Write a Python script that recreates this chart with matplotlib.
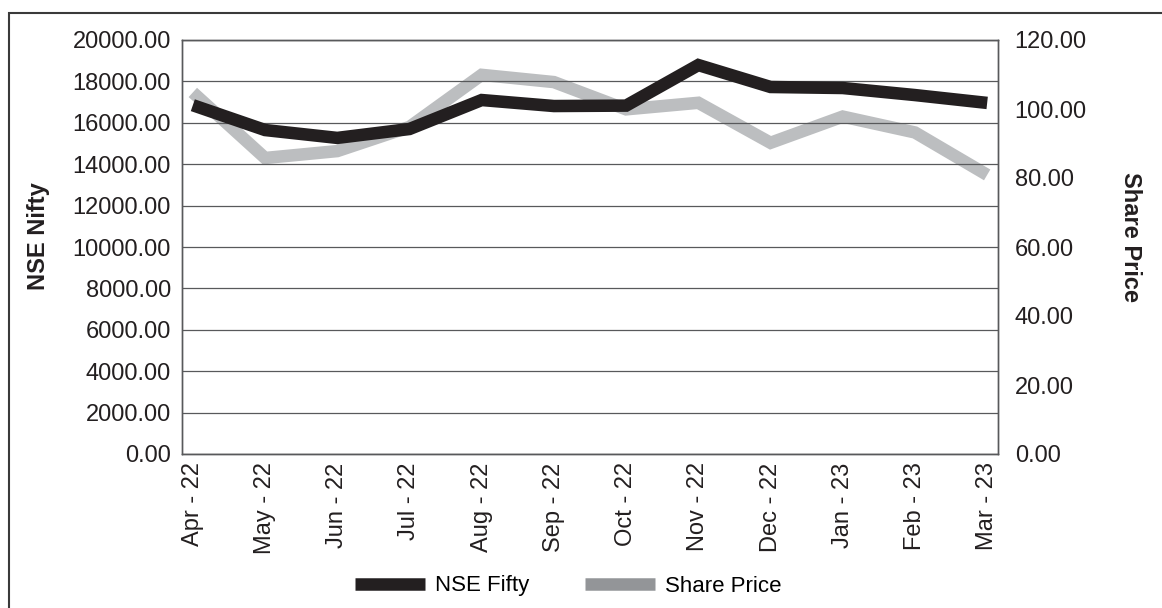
import matplotlib
matplotlib.use("Agg")
import matplotlib.pyplot as plt
from matplotlib.lines import Line2D
from matplotlib.patches import Rectangle

plt.rcParams['font.family'] = ['Liberation Sans', 'DejaVu Sans']

months = ["Apr - 22", "May - 22", "Jun - 22", "Jul - 22", "Aug - 22", "Sep - 22",
          "Oct - 22", "Nov - 22", "Dec - 22", "Jan - 23", "Feb - 23", "Mar - 23"]
nse_fifty = [16850, 15650, 15270, 15700, 17100, 16810, 16830, 18790, 17730, 17680, 17340, 16960]
share_price = [104.8, 85.8, 87.8, 94.8, 109.9, 107.8, 99.9, 101.8, 90.2, 97.8, 93.2, 80.9]
left_ticks = [0, 2000, 4000, 6000, 8000, 10000, 12000, 14000, 16000, 18000, 20000]
right_ticks = [0, 20, 40, 60, 80, 100, 120]

BLACK = "#231f20"
GRAY_LINE = "#bcbec0"
GRAY_LEG = "#939598"
GRID = "#58595b"

fig = plt.figure(figsize=(11.62, 6.08), dpi=100)
ax = fig.add_axes([182/1162, 1-454/608, (998-182)/1162, (454-40)/608])
ax2 = ax.twinx()

x = list(range(len(months)))
ax2.plot(x, share_price, color=GRAY_LINE, lw=9, solid_capstyle='butt', solid_joinstyle='miter', zorder=2)
ax.plot(x, nse_fifty, color=BLACK, lw=9, solid_capstyle='butt', solid_joinstyle='miter', zorder=3)
ax.set_zorder(ax2.get_zorder() + 1)
ax.patch.set_visible(False)

ax.set_xlim(-0.15, 11.15)
ax.set_ylim(0, 20000)
ax2.set_ylim(0, 120)
ax.set_yticks(left_ticks)
ax.set_yticklabels([f"{v:.2f}" for v in left_ticks])
ax2.set_yticks(right_ticks)
ax2.set_yticklabels([f"{v:.2f}" for v in right_ticks])
ax.set_xticks(x)
ax.set_xticklabels(months, rotation=90)
ax.yaxis.grid(True, color=GRID, lw=0.9)
ax.set_axisbelow(True)

for a in (ax, ax2):
    a.tick_params(length=0, labelsize=17, colors="#231f20")
    for s in a.spines.values():
        s.set_color(GRID)
        s.set_linewidth(1.0)
ax.tick_params(axis='y', pad=8)
ax2.tick_params(axis='y', pad=12)
ax.tick_params(axis='x', pad=6)

fig.text(38/1162, 1-236/608, "NSE Nifty", rotation=90, fontsize=17, fontweight='bold',
         ha='center', va='center', color="#231f20")
fig.text(1130/1162, 1-237/608, "Share Price", rotation=-90, fontsize=17, fontweight='bold',
         ha='center', va='center', color="#231f20")

handles = [Line2D([0], [0], color=BLACK, lw=9, solid_capstyle='butt'),
           Line2D([0], [0], color=GRAY_LEG, lw=9, solid_capstyle='butt')]
fig.legend(handles, ["NSE Fifty", "Share Price"], loc='center',
           bbox_to_anchor=(568/1162, 1-586/608), ncol=2, frameon=False,
           fontsize=16, handlelength=3.15, handletextpad=0.45, columnspacing=2.5)

fig.patches.append(Rectangle((8.5/1162, -0.05), 1.2, 1-12.5/608+0.05,
                             transform=fig.transFigure, fill=False,
                             edgecolor="#3a3a3a", lw=1.5))

fig.savefig("out.png", dpi=100)
